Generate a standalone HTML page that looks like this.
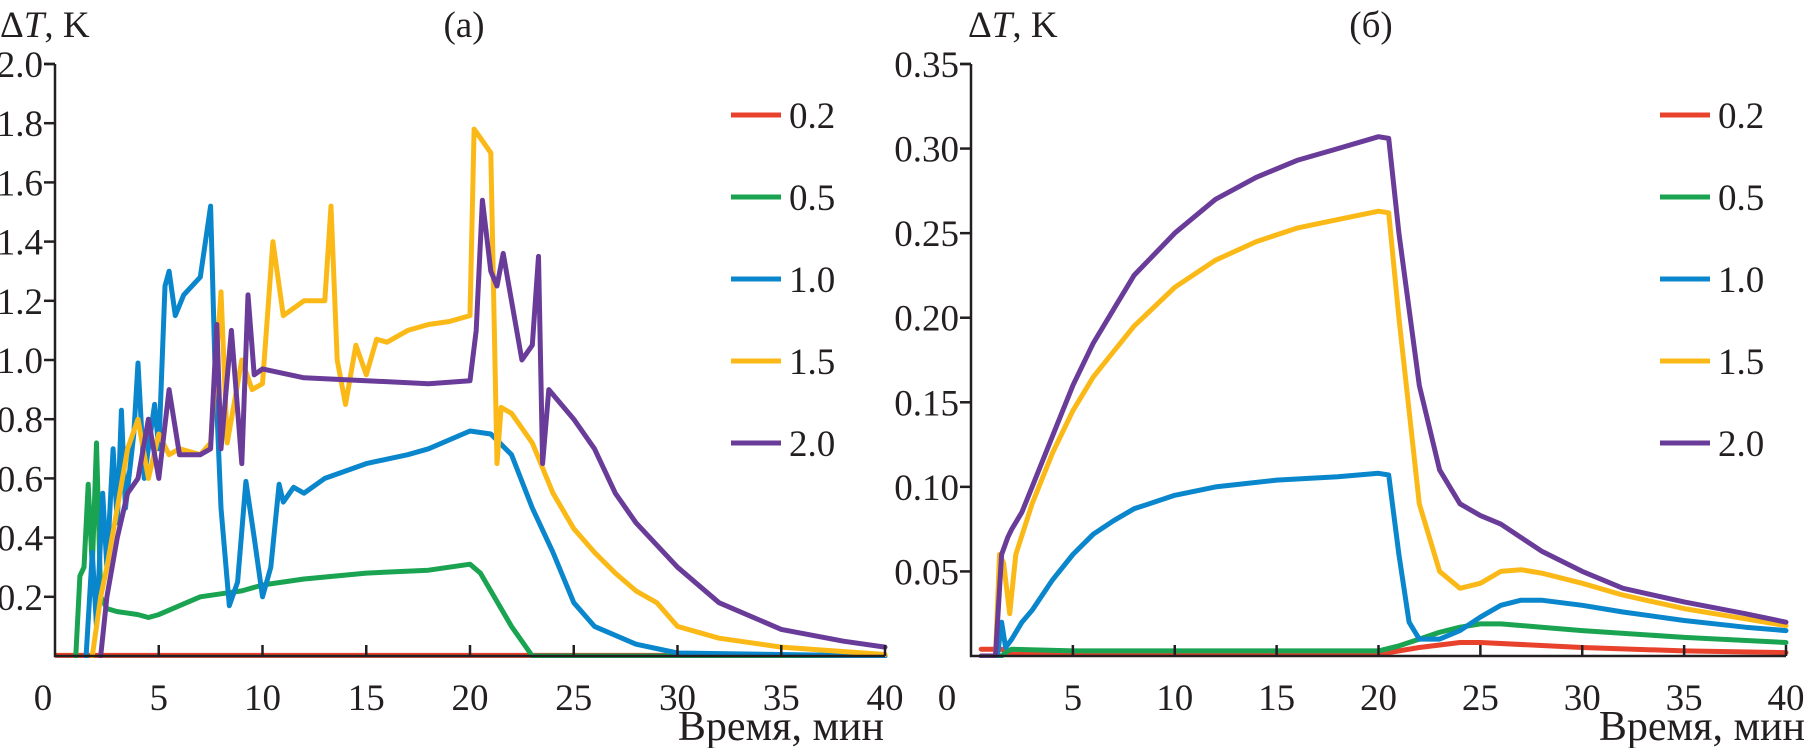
<!DOCTYPE html>
<html><head><meta charset="utf-8"><style>
html,body{margin:0;padding:0;background:#fff;}
svg{display:block;}
text{font-family:"Liberation Serif",serif;fill:#231f20;}
</style></head><body>
<svg id="chart" width="1807" height="748" viewBox="0 0 1807 748" xmlns="http://www.w3.org/2000/svg"></svg>
<script>
const seriesNames = ["0.2","0.5","1.0","1.5","2.0"];
const seriesColors = ["#e8412c","#1aa350","#0a86cc","#fbb917","#6a3c99"];
const xTicks = [0,5,10,15,20,25,30,35,40];
const yTicksA = [0.2,0.4,0.6,0.8,1.0,1.2,1.4,1.6,1.8,2.0];
const yLabelsA = ["0.2","0.4","0.6","0.8","1.0","1.2","1.4","1.6","1.8","2.0"];
const yTicksB = [0.05,0.10,0.15,0.20,0.25,0.30,0.35];
const yLabelsB = ["0.05","0.10","0.15","0.20","0.25","0.30","0.35"];

const a_red = [[0,0.002],[40,0.002]];
const a_green = [[1.0,0],[1.2,0.27],[1.4,0.3],[1.6,0.58],[1.8,0.3],[2.0,0.72],[2.2,0.2],[2.5,0.16],[3,0.15],[4,0.14],[4.5,0.13],[5,0.14],[6,0.17],[7,0.2],[8,0.21],[9,0.22],[10,0.24],[12,0.26],[15,0.28],[18,0.29],[20,0.31],[20.5,0.28],[21,0.22],[22,0.1],[23,0.0],[40,0]];
const a_blue = [[1.5,0],[1.8,0.35],[2.0,0.1],[2.3,0.55],[2.5,0.3],[2.8,0.7],[3,0.45],[3.2,0.83],[3.4,0.5],[3.8,0.75],[4,0.99],[4.3,0.6],[4.8,0.85],[5,0.7],[5.3,1.25],[5.5,1.3],[5.8,1.15],[6.2,1.22],[7,1.28],[7.5,1.52],[7.7,1.0],[8,0.5],[8.4,0.17],[8.8,0.25],[9.2,0.59],[9.6,0.4],[10,0.2],[10.4,0.3],[10.8,0.58],[11,0.52],[11.5,0.57],[12,0.55],[13,0.6],[15,0.65],[17,0.68],[18,0.7],[20,0.76],[21,0.75],[22,0.68],[23,0.5],[24,0.35],[25,0.18],[26,0.1],[28,0.04],[30,0.01],[40,0]];
const a_yellow = [[1.8,0],[2.2,0.2],[2.5,0.3],[3,0.5],[3.5,0.7],[4,0.8],[4.5,0.6],[5,0.75],[5.5,0.68],[6,0.7],[7,0.68],[7.5,0.72],[8,1.23],[8.3,0.72],[9,1.0],[9.5,0.9],[10,0.92],[10.5,1.4],[11,1.15],[12,1.2],[13,1.2],[13.3,1.52],[13.6,1.0],[14,0.85],[14.5,1.05],[15,0.95],[15.5,1.07],[16,1.06],[17,1.1],[18,1.12],[19,1.13],[20,1.15],[20.2,1.78],[20.5,1.75],[21,1.7],[21.3,0.65],[21.5,0.84],[22,0.82],[23,0.72],[24,0.55],[25,0.43],[26,0.35],[27,0.28],[28,0.22],[29,0.18],[30,0.1],[32,0.06],[35,0.03],[40,0.005]];
const a_purple = [[2.2,0],[2.5,0.2],[3,0.4],[3.5,0.55],[4,0.6],[4.5,0.8],[5,0.6],[5.5,0.9],[6,0.68],[7,0.68],[7.5,0.7],[7.8,1.12],[8,0.7],[8.5,1.1],[9,0.65],[9.3,1.22],[9.6,0.95],[10,0.97],[12,0.94],[15,0.93],[18,0.92],[20,0.93],[20.3,1.1],[20.6,1.54],[21,1.3],[21.3,1.25],[21.6,1.36],[22,1.2],[22.5,1.0],[23,1.05],[23.3,1.35],[23.5,0.65],[23.8,0.9],[25,0.8],[26,0.7],[27,0.55],[28,0.45],[30,0.3],[32,0.18],[35,0.09],[38,0.05],[40,0.03]];

const b_red = [[0.5,0.004],[1.5,0.004],[2,0.001],[5,0.001],[20,0.001],[22,0.005],[24,0.008],[25,0.008],[30,0.005],[35,0.003],[40,0.002]];
const b_green = [[0.5,0],[1.5,0],[1.8,0.003],[2,0.004],[5,0.003],[20,0.003],[21,0.006],[22,0.01],[23,0.014],[24,0.017],[25,0.019],[26,0.019],[28,0.017],[30,0.015],[35,0.011],[40,0.008]];
const b_blue = [[0.5,0],[1.3,0],[1.5,0.02],[1.7,0.005],[2,0.01],[2.5,0.02],[3,0.027],[4,0.045],[5,0.06],[6,0.072],[7,0.08],[8,0.087],[10,0.095],[12,0.1],[15,0.104],[18,0.106],[20,0.108],[20.5,0.107],[21,0.06],[21.5,0.02],[22,0.01],[23,0.01],[24,0.015],[25,0.023],[26,0.03],[27,0.033],[28,0.033],[30,0.03],[32,0.026],[35,0.021],[38,0.017],[40,0.015]];
const b_yellow = [[0.5,0],[1.2,0],[1.4,0.06],[1.6,0.055],[1.9,0.025],[2.2,0.06],[3,0.09],[4,0.12],[5,0.145],[6,0.165],[7,0.18],[8,0.195],[10,0.218],[12,0.234],[14,0.245],[16,0.253],[18,0.258],[20,0.263],[20.5,0.262],[21,0.2],[22,0.09],[23,0.05],[24,0.04],[25,0.043],[26,0.05],[27,0.051],[28,0.049],[30,0.043],[32,0.036],[35,0.028],[38,0.022],[40,0.018]];
const b_purple = [[0.5,0],[1.2,0],[1.5,0.06],[1.8,0.07],[2,0.075],[2.5,0.085],[3,0.1],[4,0.13],[5,0.16],[6,0.185],[7,0.205],[8,0.225],[10,0.25],[12,0.27],[14,0.283],[16,0.293],[18,0.3],[20,0.307],[20.5,0.306],[21,0.25],[22,0.16],[23,0.11],[24,0.09],[25,0.083],[26,0.078],[27,0.07],[28,0.062],[30,0.05],[32,0.04],[35,0.032],[38,0.025],[40,0.02]];

const svg = document.getElementById('chart');
const NS = "http://www.w3.org/2000/svg";
function mk(tag, attrs, parent){const e=document.createElementNS(NS,tag);for(const k in attrs)e.setAttribute(k,attrs[k]);(parent||svg).appendChild(e);return e;}

function panel(id, x0, x1, yMax, yTicks, yLabels, series, title, titleX, legX, yTitleX, xTitleEnd, zeroOff){
  const base=656, top=64;
  const X = t => x0 + (t/40)*(x1-x0);
  const Y = v => base - (v/yMax)*(base-top);
  const g = mk('g',{});
  
  
  const clipId='clip-'+id;
  const cp = mk('clipPath',{id:clipId},g);
  mk('rect',{x:x0,y:top-30,width:x1-x0+6,height:base-top+32},cp);
  const lines = mk('g',{'clip-path':'url(#'+clipId+')'},g);
  series.forEach((s,i)=>{
    const p = mk('polyline',{points:s.map(d=>X(d[0]).toFixed(1)+','+Y(d[1]).toFixed(1)).join(' '),fill:'none',stroke:seriesColors[i],'stroke-width':5,'stroke-linejoin':'round','stroke-linecap':'round'},lines);
    
    
  });
  const ax = mk('path',{d:`M${x0},${top} V${base} H${x1}`,fill:'none',stroke:'#231f20','stroke-width':2.5},g);
  
  
  xTicks.forEach(t=>{
    if(t>0) mk('line',{x1:X(t),x2:X(t),y1:base,y2:base-11,stroke:'#231f20','stroke-width':2.5},g);
    const tx = mk('text',{x:t===0?X(t)-zeroOff:X(t),y:710,'font-size':37,'text-anchor':'middle'},g);
    tx.textContent=t;
    
    
  });
  mk('line',{x1:x0-11,x2:x0,y1:top,y2:top,stroke:'#231f20','stroke-width':2.5},g);
  yTicks.forEach((v,i)=>{
    mk('line',{x1:x0-11,x2:x0,y1:Y(v),y2:Y(v),stroke:'#231f20','stroke-width':2.5},g);
    const tx = mk('text',{x:x0-12,y:Y(v)+13,'font-size':37,'text-anchor':'end'},g);
    tx.textContent=yLabels[i];
    
    
  });
  const yt = mk('text',{x:yTitleX,y:37,'font-size':37},g);
  yt.innerHTML='Δ<tspan font-style="italic">T</tspan>, K';
  
  
  const ti = mk('text',{x:titleX,y:37,'font-size':37,'text-anchor':'middle'},g);
  ti.textContent=title;
  
  
  const xl = mk('text',{x:xTitleEnd,y:740,'font-size':42,'text-anchor':'end'},g);
  xl.textContent='Время, мин';
  
  
  seriesNames.forEach((n,i)=>{
    const ly = 115 + i*82;
    const le = mk('g',{},g);
    
    
    mk('line',{x1:legX,x2:legX+50,y1:ly,y2:ly,stroke:seriesColors[i],'stroke-width':5},le);
    const t = mk('text',{x:legX+58,y:ly+13,'font-size':37},le);
    t.textContent=n;
  });
}
panel('a', 55, 885, 2.0, yTicksA, yLabelsA, [a_red,a_green,a_blue,a_yellow,a_purple], '(a)', 464, 731, 0, 884, 12);
panel('b', 971, 1786, 0.35, yTicksB, yLabelsB, [b_red,b_green,b_blue,b_yellow,b_purple], '(б)', 1371, 1660, 968, 1805, 24);
</script>
</body></html>
